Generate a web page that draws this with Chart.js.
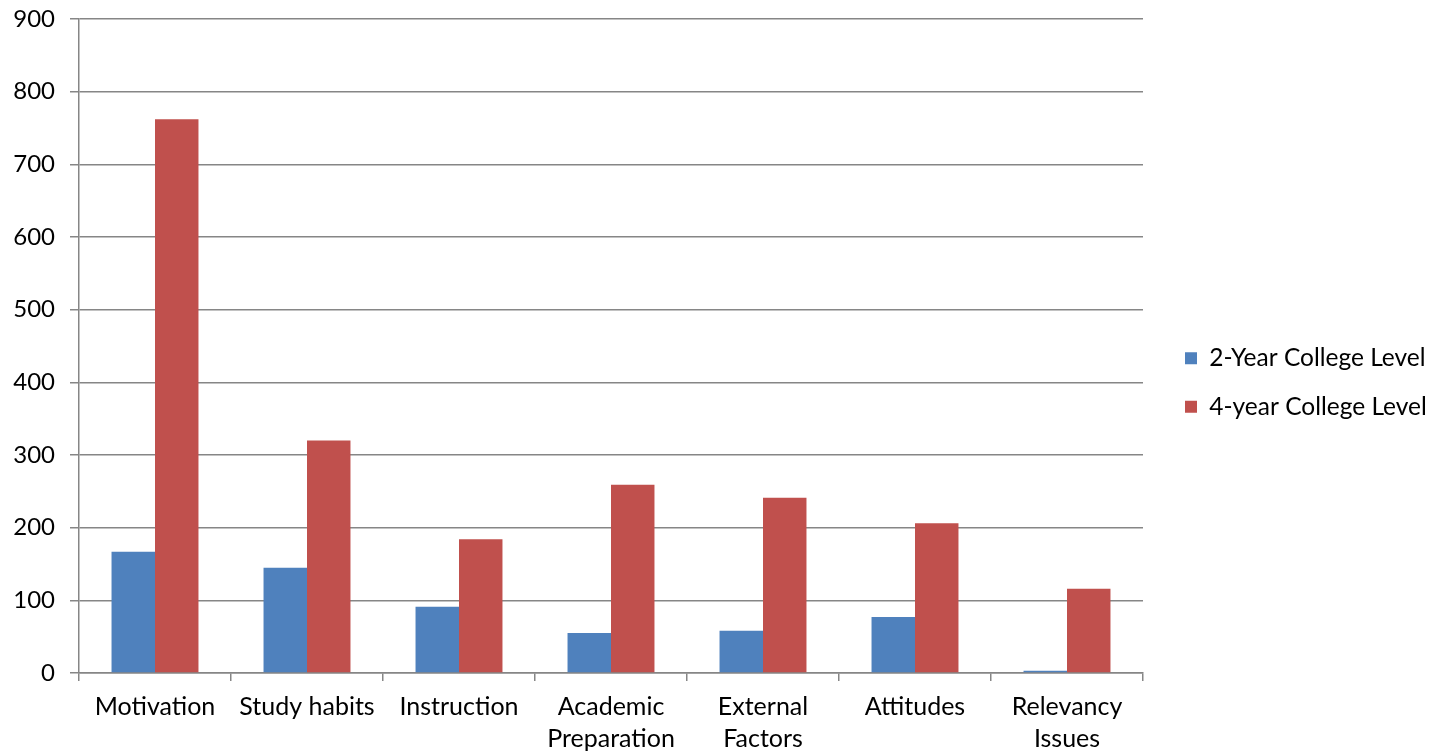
<!DOCTYPE html>
<html>
<head>
<meta charset="utf-8">
<script src="https://cdn.jsdelivr.net/npm/chart.js@4/dist/chart.umd.min.js"></script>
<style>
  html, body { margin: 0; padding: 0; background: #ffffff; }
  #wrap { width: 1444px; height: 755px; position: relative; }
</style>
</head>
<body>
<div id="wrap"><canvas id="chart"></canvas></div>
<script>
// Reasons reported, by college level
const categories = [
  'Motivation',
  'Study habits',
  'Instruction',
  ['Academic', 'Preparation'],
  ['External', 'Factors'],
  'Attitudes',
  ['Relevancy', 'Issues']
];
const twoYear = [167, 145, 91, 55, 58, 77, 3];
const fourYear = [762, 320, 184, 259, 241, 206, 116];
const seriesNames = ['2-Year College Level', '4-year College Level'];
const yTicks = { min: 0, max: 900, step: 100 };

const FONT = 'Lato, "Open Sans", sans-serif';
const GRID = '#868686';
const LEGEND_WIDTH = 301;   // space reserved on the right for the legend
const LEGEND_INSET = 18;    // extra gap between plot edge and legend keys
const LEGEND_DROP = 5;      // small downward nudge of the legend block

// Fixed-width legend column, with its keys set in from the plot edge
const legendColumn = {
  id: 'legendColumn',
  beforeLayout(chart) {
    const lg = chart.legend;
    if (lg && !lg._fixedWidth) {
      const fit = lg.fit;
      lg.fit = function () {
        fit.call(this);
        this.width = LEGEND_WIDTH;
      };
      lg._fixedWidth = true;
    }
  },
  afterLayout(chart) {
    const lg = chart.legend;
    if (lg) {
      lg.left += LEGEND_INSET;
      lg.right += LEGEND_INSET;
      lg.top += LEGEND_DROP;
      lg.bottom += LEGEND_DROP;
    }
  }
};

new Chart(document.getElementById('chart'), {
  type: 'bar',
  data: {
    labels: categories,
    datasets: [
      {
        label: seriesNames[0],
        data: twoYear,
        backgroundColor: '#4F81BD'
      },
      {
        label: seriesNames[1],
        data: fourYear,
        backgroundColor: '#C0504D'
      }
    ]
  },
  options: {
    responsive: true,
    maintainAspectRatio: false,
    animation: false,
    layout: { padding: { left: 10, right: 0, top: 0, bottom: 0 } },
    datasets: {
      bar: { categoryPercentage: 0.572, barPercentage: 1.0 }
    },
    plugins: {
      tooltip: { enabled: false },
      legend: {
        position: 'right',
        align: 'center',
        labels: {
          color: '#000',
          font: { family: FONT, size: 24.5 },
          boxWidth: 12,
          boxHeight: 12,
          padding: 24
        }
      }
    },
    scales: {
      x: {
        grid: {
          offset: true,
          drawOnChartArea: false,
          drawTicks: true,
          tickLength: 8,
          color: GRID,
          lineWidth: 1.5
        },
        border: { display: true, color: GRID, width: 1.5 },
        ticks: {
          color: '#000',
          font: { family: FONT, size: 25, lineHeight: 1.28 },
          padding: 10,
          maxRotation: 0,
          autoSkip: false
        },
        afterFit(scale) {
          scale.height = 82;
        }
      },
      y: {
        min: yTicks.min,
        max: yTicks.max,
        grid: {
          color: GRID,
          lineWidth: 1.5,
          tickLength: 9
        },
        border: { display: true, color: GRID, width: 1.5 },
        ticks: {
          stepSize: yTicks.step,
          color: '#000',
          font: { family: FONT, size: 24 },
          padding: 15
        },
        afterFit(scale) {
          scale.width = 69;
          scale.paddingTop = 19;
          scale.paddingBottom = 0;
        }
      }
    }
  },
  plugins: [legendColumn]
});
</script>
</body>
</html>
